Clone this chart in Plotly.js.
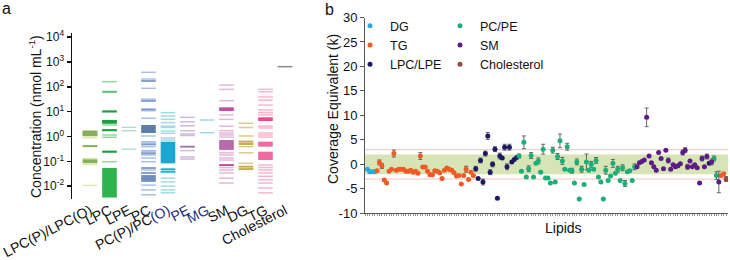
<!DOCTYPE html>
<html><head><meta charset="utf-8">
<script src="https://cdn.plot.ly/plotly-3.0.1.min.js"></script>
<style>html,body{margin:0;padding:0;background:#fff}</style>
</head><body><div id="chart" style="width:730px;height:260px"></div>
<script>
// ---------- Panel a data (nmol/mL) ----------
const catsA = ['LPC(P)/LPC(O)','LPC','LPE','PC','PC(P)/PC(O)','PE','MG','SM','DG','TG','Cholesterol'];
const labelsA = ['LPC(P)/LPC(O)','LPC','LPE','PC','PC(P)/PC<span style="color:#232a7c">(O)</span>',
  '<span style="color:#232a7c">PE</span>','<span style="color:#232a7c">MG</span>','SM','DG','TG','Cholesterol'];
const yTickVals = [0.01, 0.1, 1, 10, 100, 1000, 10000];
const yTickText = ['10<sup>-2</sup>','10<sup>-1</sup>','10<sup>0</sup>','10<sup>1</sup>','10<sup>2</sup>','10<sup>3</sup>','10<sup>4</sup>'];

const lpcpLight = [1.7, 1.05, 0.9, 0.13, 0.085, 0.0107, 0.075];
const lpcpDark  = [1.55, 1.4, 1.25, 1.15, 0.41, 0.11, 0.095];
const lpcLight  = [161, 2.9, 1.15, 0.93, 0.097];
const lpcMid    = [63];
const lpcDark   = [10.2, 4.2, 3.6, 1.8, 0.245];
const lpcBlock  = [0.0035, 0.054];
const lpeLines  = [2.35, 1.71, 0.31];
const pcLight   = [383, 206, 87, 32, 10.9, 5.4, 1.05, 0.62, 0.55, 0.39, 0.27, 0.24, 0.18, 0.136, 0.097, 0.045, 0.011, 0.0071, 0.0045];
const pcDark    = [171, 27, 12.4, 0.48, 0.21, 0.054, 0.034];
const pcBlockHi = [1.38, 2.9];
const pcBlockLo = [0.015, 0.028];
const pcpLight  = [9.1, 6.7, 4.9, 3.6, 2.6, 2.3, 1.66, 1.35, 0.87, 0.72, 0.021, 0.015, 0.010, 0.0071, 0.0054];
const pcpDark   = [0.048, 0.038];
const pcpBlock  = [0.083, 0.62];
const peLight   = [5.9, 3.9, 2.7, 1.71, 1.26, 1.1, 0.27, 0.15, 0.124];
const peDark    = [0.39];
const mgLines   = [4.6, 1.42];
const smLight   = [118, 79, 27.6, 7.4, 4.9, 2.6, 1.71, 1.38, 1.15, 0.95, 0.22, 0.18, 0.136, 0.113, 0.056, 0.045, 0.034, 0.021, 0.0134];
const smDark    = [13.6, 11.7, 0.071];
const smBlock   = [0.29, 0.72];
const dgLight   = [3.4, 2.3, 1.05, 0.39, 0.22, 0.083];
const dgDark    = [0.62, 0.50, 0.061, 0.049];
const tgLight   = [79, 63, 39, 29, 18.5, 11.7, 9.2, 7.4, 2.6, 2.2, 1.38, 1.15, 0.95, 0.071, 0.056, 0.045, 0.034, 0.025, 0.018, 0.0134, 0.0085, 0.0054];
const tgDark    = [5.4, 4.6];
const tgBlockHi = [0.39, 0.62];
const tgBlockLo = [0.113, 0.245];
const cholLines = [645];

// ---------- Panel b data (coverage equivalent, k) ----------
const coverageValues = [
 -1.0,-1.5,-1.5,-1.5,
 -1.3,0.4,-0.35,-3.2,-3.8,-1.4,-1.0,2.2,-1.2,-1.0,
 -1.0,-1.0,-1.4,-1.4,-1.2,-1.6,-1.4,-1.8,1.7,-0.55,
 -0.55,-1.4,-2.1,-2.1,-1.3,-1.4,-1.7,-2.9,-1.2,-0.75,
 -1.0,-1.2,-1.7,-2.4,-2.3,-4.0,-2.3,-1.0,-3.1,-1.6,
 -2.3,
 -0.9,-2.9,0.8,-3.6,2.2,5.8,-1.6,0.0,3.1,-6.9,
 1.7,1.3,3.5,-0.5,3.5,0.5,1.0,1.4,
 1.7,-1.4,4.5,-2.6,-0.9,1.8,-2.6,0.2,0.7,-1.6,
 3.1,-2.8,-2.8,-3.8,2.9,-3.6,1.6,4.8,0.7,-1.0,
 3.6,-1.2,-1.3,-3.8,0.5,-7.1,-1.0,-4.1,0.5,-1.2,
 0.0,-1.0,0.8,-2.6,-3.6,-7.1,-1.2,-3.3,-2.4,0.2,
 -1.8,-1.0,-3.3,-0.7,-3.9,-1.5,-1.3,-3.3,-0.5,
 -0.5,0.35,0.6,0.9,9.6,1.7,0.35,-0.5,-1.2,2.4,
 1.2,-0.9,2.9,0.8,-1.0,-0.1,-0.5,-0.3,0.1,2.4,
 2.9,-0.5,0.7,-0.5,-0.1,-0.7,-3.8,1.2,-0.5,1.6,
 0.2,0.5,1.2,-2.3,-3.6,-2.3,-1.9,-3.0
];
const classRuns = [['DG',4],['TG',41],['LPC/LPE',18],['PC/PE',49],['SM',30],['LPC/LPE',1],['SM',1],['PC/PE',2],['SM',1],['TG',2],['Cholesterol',1]];
const errIndex = [6,7,12,23,42,46,48,49,50,51,52,53,54,56,58,59,60,64,66,68,69,72,74,78,80,81,82,84,86,88,90,92,94,96,100,103,105,107,108,112,117,126,132,133,134,140,142,144,145,146,147,150];
const errSize  = [0.5,0.5,0.7,0.7,0.6,0.5,0.5,0.6,0.5,0.7,0.5,0.5,0.5,0.6,0.6,0.6,0.6,0.4,1.3,0.6,0.6,0.6,1.0,0.6,0.6,1.4,0.7,0.7,0.5,0.6,0.6,1.6,0.6,0.6,0.8,0.8,0.6,0.6,0.6,0.6,1.9,0.5,0.5,0.5,0.5,0.5,0.5,0.6,0.5,0.8,2.2,0.5];
const legendClasses1 = ['DG','TG','LPC/LPE'];
const legendClasses2 = ['PC/PE','SM','Cholesterol'];
const bandLimit = 2, warnLimit = 3;

// ---------- styles ----------
const FONT = 'Liberation Sans, Arial, Helvetica, sans-serif';
const W = 730, H = 260;
const px = v => v / W, py = v => 1 - v / H;
const classColor = {'DG':'#2aa8e0','TG':'#f15a24','LPC/LPE':'#1b1a66','PC/PE':'#18b077','SM':'#5d1b88','Cholesterol':'#9a4a3c'};
const LINE_MARK = 10.5; // line-ew symbol is 1.4*size long -> ~15px

function lineTrace(cat, vals, color, width) {
  return {type:'scatter', mode:'markers', x: vals.map(() => cat), y: vals, xaxis:'x', yaxis:'y',
    showlegend:false, hoverinfo:'skip',
    marker:{symbol:'line-ew', size:LINE_MARK, color: color, line:{color: color, width: width}}};
}
function blockTrace(cat, range, color) {
  return {type:'bar', x:[cat], y:[range[1] - range[0]], base:[range[0]], width:0.75, xaxis:'x', yaxis:'y',
    marker:{color: color, line:{width:0}}, showlegend:false, hoverinfo:'skip'};
}

const traces = [
  lineTrace(catsA[0], lpcpLight, '#dde9a8', 1.5),
  lineTrace(catsA[0], lpcpDark, '#86ad5c', 2),
  blockTrace(catsA[1], lpcBlock, '#2fb34c'),
  lineTrace(catsA[1], lpcLight, '#93d69f', 1.5),
  lineTrace(catsA[1], lpcMid, '#5cc072', 2),
  lineTrace(catsA[1], lpcDark, '#1f9e42', 2.2),
  lineTrace(catsA[2], lpeLines, '#a8dcc8', 1.3),
  blockTrace(catsA[3], pcBlockHi, '#5d7fa8'),
  blockTrace(catsA[3], pcBlockLo, '#6f8fbf'),
  lineTrace(catsA[3], pcLight, '#aac0e2', 1.5),
  lineTrace(catsA[3], pcDark, '#7c99cc', 1.8),
  blockTrace(catsA[4], pcpBlock, '#1ca6d0'),
  lineTrace(catsA[4], pcpLight, '#a3dbe0', 1.5),
  lineTrace(catsA[4], pcpDark, '#27b0d6', 2),
  lineTrace(catsA[5], peLight, '#cfb9dd', 1.5),
  lineTrace(catsA[5], peDark, '#9a70b4', 1.8),
  lineTrace(catsA[6], mgLines, '#93d3e3', 1.3),
  blockTrace(catsA[7], smBlock, '#b968a9'),
  lineTrace(catsA[7], smLight, '#e4b8da', 1.5),
  lineTrace(catsA[7], smDark, '#c0509f', 2),
  lineTrace(catsA[8], dgLight, '#dccb8c', 1.5),
  lineTrace(catsA[8], dgDark, '#c8ad55', 2),
  blockTrace(catsA[9], tgBlockHi, '#ee6aa0'),
  blockTrace(catsA[9], tgBlockLo, '#ee6aa0'),
  lineTrace(catsA[9], tgLight, '#f6b6cf', 1.5),
  lineTrace(catsA[9], tgDark, '#e84a8a', 2),
  lineTrace(catsA[10], cholLines, '#8a8a8a', 1.5)
];

// panel b: expand classes & errors
const coverageClass = [];
classRuns.forEach(([c, n]) => { for (let i = 0; i < n; i++) coverageClass.push(c); });
const coverageErr = coverageValues.map(() => null);
errIndex.forEach((idx, k) => { coverageErr[idx - 1] = errSize[k]; });

[...legendClasses1, ...legendClasses2].forEach(cls => {
  const xs = [], ys = [], es = [];
  coverageValues.forEach((v, i) => {
    if (coverageClass[i] === cls) { xs.push(i + 1); ys.push(v); es.push(coverageErr[i]); }
  });
  traces.push({
    type:'scatter', mode:'markers', name: cls, x: xs, y: ys, xaxis:'x2', yaxis:'y2',
    legend: legendClasses1.includes(cls) ? 'legend' : 'legend2',
    marker:{size:5, color: classColor[cls]},
    error_y:{type:'data', array: es, visible:true, color:'#666', thickness:1, width:2},
    hoverinfo:'x+y'
  });
});

const layout = {
  width: W, height: H,
  margin:{l:0, r:0, t:0, b:0},
  paper_bgcolor:'#fff', plot_bgcolor:'rgba(0,0,0,0)',
  font:{family: FONT, size:13, color:'#111'},
  barmode:'overlay',
  xaxis:{domain:[px(72), px(300)], anchor:'y', type:'category', range:[-0.923, 10.77],
    tickmode:'array', tickvals: catsA, ticktext: labelsA, tickangle:-27,
    tickfont:{size:14, color:'#111'}, showline:false, ticks:'', showgrid:false, zeroline:false},
  yaxis:{domain:[py(199), py(33)], anchor:'x', type:'log', range:[-2.515, 4.165],
    tickmode:'array', tickvals: yTickVals, ticktext: yTickText, tickfont:{size:12},
    showline:true, linecolor:'#111', linewidth:1.5, ticks:'outside', ticklen:4, tickwidth:1.5, tickcolor:'#111',
    showgrid:false, zeroline:false},
  xaxis2:{domain:[px(365), px(728)], anchor:'y2', range:[0, 150.8],
    showline:true, linecolor:'#555', linewidth:1, ticks:'outside', ticklen:2, tickwidth:1, tickcolor:'#999',
    tickmode:'linear', tick0:0, dtick:1, showticklabels:false, showgrid:false, zeroline:false},
  yaxis2:{domain:[py(213.3), py(17.5)], anchor:'x2', range:[-10, 30],
    tickmode:'array', tickvals:[-10,-5,0,5,10,15,20,25,30], ticktext:['-10','-5','0','5','10','15','20','25','30'],
    tickfont:{size:13}, showline:true, linecolor:'#555', linewidth:1, ticks:'outside', ticklen:4, tickcolor:'#555',
    showgrid:false, zeroline:false},
  legend:{x: px(350), xanchor:'left', y: py(11), yanchor:'top', bgcolor:'rgba(0,0,0,0)',
    font:{size:12.5, color:'#111'}, tracegroupgap:0, itemwidth:30},
  legend2:{x: px(440), xanchor:'left', y: py(11), yanchor:'top', bgcolor:'rgba(0,0,0,0)',
    font:{size:12.5, color:'#111'}, tracegroupgap:0, itemwidth:30},
  shapes:[
    {type:'rect', xref:'x2 domain', yref:'y2', x0:0, x1:1, y0:-bandLimit, y1:bandLimit, fillcolor:'#d6e4b6', line:{width:0}, layer:'below'},
    {type:'line', xref:'x2 domain', yref:'y2', x0:0, x1:1, y0:warnLimit, y1:warnLimit, line:{color:'#f5c4c4', width:1}, layer:'below'},
    {type:'line', xref:'x2 domain', yref:'y2', x0:0, x1:1, y0:-warnLimit, y1:-warnLimit, line:{color:'#f5c4c4', width:1}, layer:'below'}
  ],
  annotations:[
    {text:'a', xref:'paper', yref:'paper', x: px(0), y: py(9), xanchor:'left', yanchor:'middle', showarrow:false, font:{size:16, color:'#111'}},
    {text:'b', xref:'paper', yref:'paper', x: px(329), y: py(10), xanchor:'center', yanchor:'middle', showarrow:false, font:{size:16, color:'#111'}},
    {text:'Concentration (nmol mL<sup>-1</sup>)', xref:'paper', yref:'paper', x: px(35), y: py(117), textangle:-90,
      xanchor:'center', yanchor:'middle', showarrow:false, font:{size:14, color:'#111'}},
    {text:'Coverage Equivalent (k)', xref:'paper', yref:'paper', x: px(333), y: py(109), textangle:-90,
      xanchor:'center', yanchor:'middle', showarrow:false, font:{size:14, color:'#111'}},
    {text:'Lipids', xref:'paper', yref:'paper', x: px(563), y: py(228), xanchor:'center', yanchor:'middle', showarrow:false, font:{size:14, color:'#111'}}
  ]
};

Plotly.newPlot('chart', traces, layout, {displayModeBar:false, staticPlot:true});
</script></body></html>
